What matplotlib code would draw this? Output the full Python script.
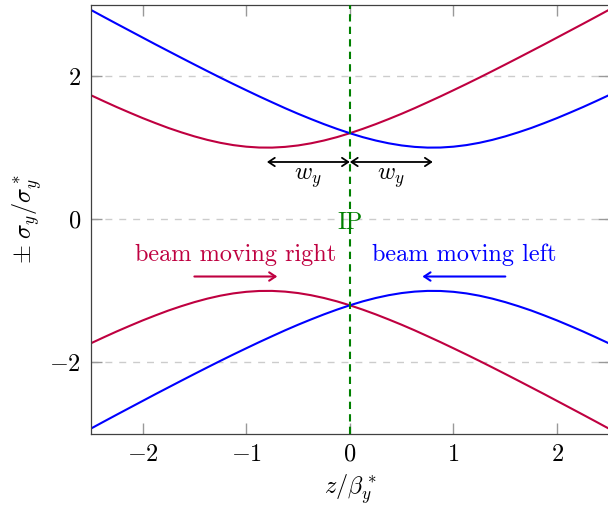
import matplotlib
matplotlib.use("Agg")
import matplotlib.pyplot as plt

plt.rcParams['font.family'] = 'cmr10'
plt.rcParams['mathtext.fontset'] = 'cm'
plt.rcParams['axes.formatter.use_mathtext'] = True
plt.rcParams['axes.unicode_minus'] = True

# beam size along z
z = [-2.5, -2.375, -2.25, -2.125, -2.0, -1.875, -1.75, -1.625, -1.5, -1.375,
     -1.25, -1.125, -1.0, -0.875, -0.75, -0.625, -0.5, -0.375, -0.25, -0.125,
     0.0, 0.125, 0.25, 0.375, 0.5, 0.625, 0.75, 0.875, 1.0, 1.125,
     1.25, 1.375, 1.5, 1.625, 1.75, 1.875, 2.0, 2.125, 2.25, 2.375, 2.5]
sigma_right = [1.734, 1.650, 1.568, 1.490, 1.414, 1.343, 1.275, 1.214, 1.158, 1.109,
               1.068, 1.036, 1.014, 1.002, 1.001, 1.011, 1.031, 1.061, 1.100, 1.147,
               1.202, 1.263, 1.329, 1.400, 1.474, 1.552, 1.634, 1.717, 1.803, 1.890,
               1.979, 2.070, 2.162, 2.255, 2.349, 2.443, 2.539, 2.635, 2.731, 2.828, 2.926]
sigma_left = [2.926, 2.828, 2.731, 2.635, 2.539, 2.443, 2.349, 2.255, 2.162, 2.070,
              1.979, 1.890, 1.803, 1.717, 1.634, 1.552, 1.474, 1.400, 1.329, 1.263,
              1.202, 1.147, 1.100, 1.061, 1.031, 1.011, 1.001, 1.002, 1.014, 1.036,
              1.068, 1.109, 1.158, 1.214, 1.275, 1.343, 1.414, 1.490, 1.568, 1.650, 1.734]
w_y = 0.8

red = '#bf0040'
blue = '#0000ff'
green = '#008000'
fs = 17.5

fig = plt.figure(figsize=(6.08, 5.08), dpi=100)
ax = fig.add_axes([0.1492, 0.1457, 0.8524, 0.8454])

ax.plot(z, sigma_right, color=red, lw=1.5)
ax.plot(z, [-s for s in sigma_right], color=red, lw=1.5)
ax.plot(z, sigma_left, color=blue, lw=1.5)
ax.plot(z, [-s for s in sigma_left], color=blue, lw=1.5)

ax.axvline(0, color=green, lw=1.5, ls=(0, (3.5, 2.5)), zorder=3)

# waist offset arrows
for x0, x1 in [(-w_y, 0), (0, w_y)]:
    ax.annotate('', xy=(x1, 0.8), xytext=(x0, 0.8),
                arrowprops=dict(arrowstyle='<->,head_length=0.45,head_width=0.3', color='black', lw=1.3,
                                shrinkA=0, shrinkB=0))
ax.text(-w_y / 2, 0.57, r'$w_y$', ha='center', va='center', fontsize=fs)
ax.text(w_y / 2, 0.57, r'$w_y$', ha='center', va='center', fontsize=fs)

ax.text(0, -0.05, 'IP', color=green, ha='center', va='center', fontsize=fs)

ax.text(-1.1, -0.5, 'beam moving right', color=red, ha='center', va='center', fontsize=fs)
ax.text(1.1, -0.5, 'beam moving left', color=blue, ha='center', va='center', fontsize=fs)
ax.annotate('', xy=(-0.7, -0.8), xytext=(-1.5, -0.8),
            arrowprops=dict(arrowstyle='->,head_length=0.45,head_width=0.3', color=red, lw=1.5,
                            shrinkA=0, shrinkB=0))
ax.annotate('', xy=(0.7, -0.8), xytext=(1.5, -0.8),
            arrowprops=dict(arrowstyle='->,head_length=0.45,head_width=0.3', color=blue, lw=1.5,
                            shrinkA=0, shrinkB=0))

ax.set_xlim(-2.5, 2.5)
ax.set_ylim(-3, 3)
ax.set_xticks([-2, -1, 0, 1, 2])
ax.set_yticks([-2, 0, 2])
ax.yaxis.grid(True, color='0.8', ls=(0, (5, 5)), lw=1.0)
ax.tick_params(direction='in', length=8, width=1, color='0.6', top=True, right=True,
               labelsize=fs, pad=7)
for s in ax.spines.values():
    s.set_color('0.25')
    s.set_linewidth(0.9)

ax.set_xlabel(r'$z/\beta_y^*$', fontsize=fs, labelpad=5)
ax.set_ylabel(r'$\pm\ \sigma_y/\sigma_y^*$', fontsize=fs, labelpad=4)

fig.savefig('out.png', dpi=100)
